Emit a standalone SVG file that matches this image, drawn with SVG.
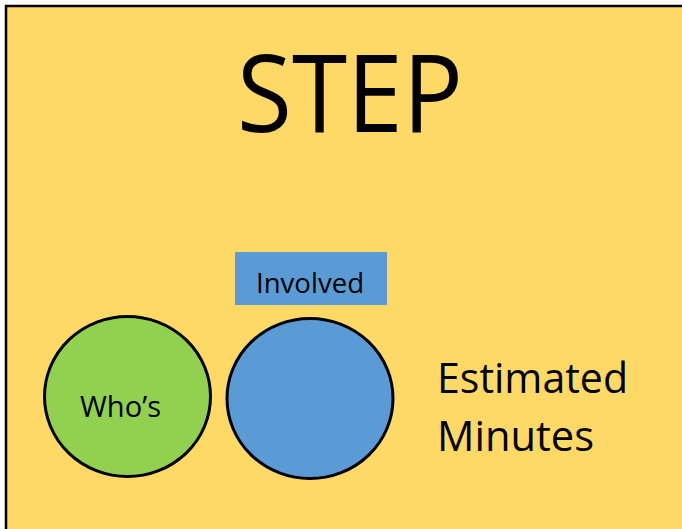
<svg xmlns="http://www.w3.org/2000/svg" width="682" height="529" viewBox="0 0 682 529">
<style>
text{font-family:"Open Sans","Liberation Sans",sans-serif;fill:#000}
.c{stroke:#000;stroke-width:3}
</style>
<rect width="682" height="529" fill="#fff"/>
<g id="card">
<rect x="6" y="6" width="690" height="540" fill="#FFD966" stroke="#000" stroke-width="2.5"/>
<text x="237" y="132" font-size="108" textLength="226" lengthAdjust="spacingAndGlyphs">STEP</text>
</g>
<g id="involved">
<rect x="235" y="252" width="152" height="53" fill="#5B9BD5"/>
<text x="256" y="293" font-size="28" textLength="108" lengthAdjust="spacingAndGlyphs">Involved</text>
</g>
<g id="whos">
<ellipse class="c" cx="127.5" cy="396.5" rx="83" ry="80" fill="#92D050"/>
<text x="80" y="417" font-size="29" textLength="81" lengthAdjust="spacingAndGlyphs">Who’s</text>
</g>
<g id="blue">
<ellipse class="c" cx="310" cy="398.5" rx="83" ry="80" fill="#5B9BD5"/>
</g>
<g id="estimate">
<text x="437" y="393" font-size="42" textLength="191" lengthAdjust="spacingAndGlyphs">Estimated</text>
<text x="437" y="451" font-size="42" textLength="157" lengthAdjust="spacingAndGlyphs">Minutes</text>
</g>
<g id="connectors"/>
</svg>
